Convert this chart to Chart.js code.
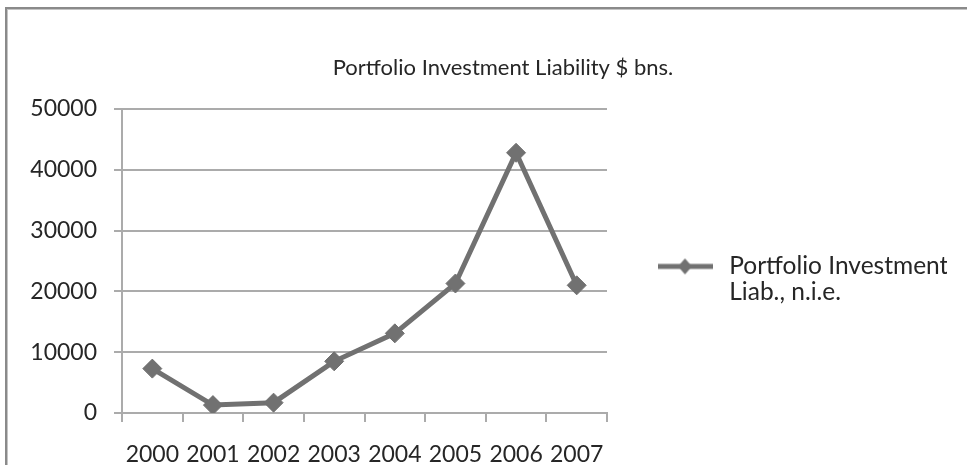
<!DOCTYPE html>
<html>
<head>
<meta charset="utf-8">
<script src="https://cdn.jsdelivr.net/npm/chart.js@4/dist/chart.umd.min.js"></script>
<style>
  html, body { margin: 0; padding: 0; background: #ffffff; }
  #wrap { position: relative; width: 967px; height: 465px; overflow: hidden; }
  #frame { position: absolute; left: 5px; top: 7px; width: 1000px; height: 500px;
           border-left: 2px solid #8a8a8a; border-top: 2px solid #8a8a8a;
           box-shadow: inset 1px 1px 0 #c4c4c4; pointer-events: none; }
</style>
</head>
<body>
<div id="wrap">
  <canvas id="c" width="967" height="465"></canvas>
  <div id="frame"></div>
</div>
<script>
const titleText = 'Portfolio Investment Liability $ bns.';
const categories = ['2000', '2001', '2002', '2003', '2004', '2005', '2006', '2007'];
const seriesName = ['Portfolio Investment', 'Liab., n.i.e.'];
const seriesValues = [7300, 1300, 1700, 8500, 13100, 21300, 42800, 21000];
const yMin = 0;
const yMax = 50000;
const yStep = 10000;

const lineColor = '#717171';
const gridColor = '#ababab';
const textColor = '#262626';

// legend icon: line with diamond
const icon = document.createElement('canvas');
icon.width = 55; icon.height = 18;
(function () {
  const g = icon.getContext('2d');
  g.strokeStyle = lineColor; g.lineWidth = 5;
  g.beginPath(); g.moveTo(0, 9); g.lineTo(55, 9); g.stroke();
  g.fillStyle = lineColor;
  g.beginPath(); g.moveTo(27.5 - 7, 9); g.lineTo(27.5, 1); g.lineTo(27.5 + 7, 9); g.lineTo(27.5, 17); g.closePath(); g.fill();
})();

// center the title over the whole picture area like the original
const titleCenter = {
  id: 'titleCenter',
  afterLayout(chart) {
    const t = chart.titleBlock;
    if (!t) return;
    const half = (t.right - t.left) / 2;
    t.left = 503 - half;
    t.right = 503 + half;
  }
};

new Chart(document.getElementById('c'), {
  type: 'line',
  data: {
    labels: categories,
    datasets: [{
      label: seriesName.join(' '),
      data: seriesValues,
      borderColor: lineColor,
      backgroundColor: lineColor,
      borderWidth: 5,
      tension: 0,
      pointStyle: 'rectRot',
      pointRadius: 9.5,
      pointHoverRadius: 9.5,
      pointBorderWidth: 1,
      pointBackgroundColor: lineColor,
      pointBorderColor: lineColor
    }]
  },
  plugins: [titleCenter],
  options: {
    responsive: false,
    animation: false,
    layout: { padding: { left: 25, right: 20, top: 0, bottom: 0 } },
    plugins: {
      tooltip: { enabled: false },
      title: {
        display: true,
        text: titleText,
        color: textColor,
        font: { family: 'Lato', size: 22, weight: 'normal', lineHeight: 1.2 },
        padding: { top: 55, bottom: 27.6 }
      },
      legend: {
        position: 'right',
        fullSize: false,
        align: 'center',
        maxWidth: 340,
        title: { display: true, text: '', padding: { top: 37, bottom: 0 }, font: { size: 1 } },
        labels: {
          usePointStyle: true,
          pointStyleWidth: 64,
          padding: 46,
          color: textColor,
          font: { family: 'Lato', size: 24.5, lineHeight: 1.06 },
          generateLabels: () => [{
            text: seriesName,
            pointStyle: icon,
            fillStyle: lineColor,
            strokeStyle: lineColor,
            lineWidth: 0,
            fontColor: textColor,
            hidden: false,
            datasetIndex: 0
          }]
        }
      }
    },
    scales: {
      x: {
        type: 'category',
        offset: true,
        afterFit: (s) => { s.height = 52; },
        grid: { display: true, offset: true, drawOnChartArea: false, drawTicks: true, tickLength: 9, color: gridColor, lineWidth: 2 },
        border: { display: true, color: gridColor, width: 2 },
        ticks: { color: textColor, padding: 19, maxRotation: 0, autoSkip: false, font: { family: 'Lato', size: 23, lineHeight: 1.2 } }
      },
      y: {
        min: yMin,
        max: yMax,
        afterFit: (s) => { s.width = 97; },
        grid: { color: gridColor, lineWidth: 2, drawTicks: true, tickLength: 8 },
        border: { display: true, color: gridColor, width: 2 },
        ticks: {
          stepSize: yStep,
          color: textColor,
          padding: 17,
          font: { family: 'Lato', size: 23 },
          callback: (v) => String(v)
        }
      }
    }
  }
});
</script>
</body>
</html>
